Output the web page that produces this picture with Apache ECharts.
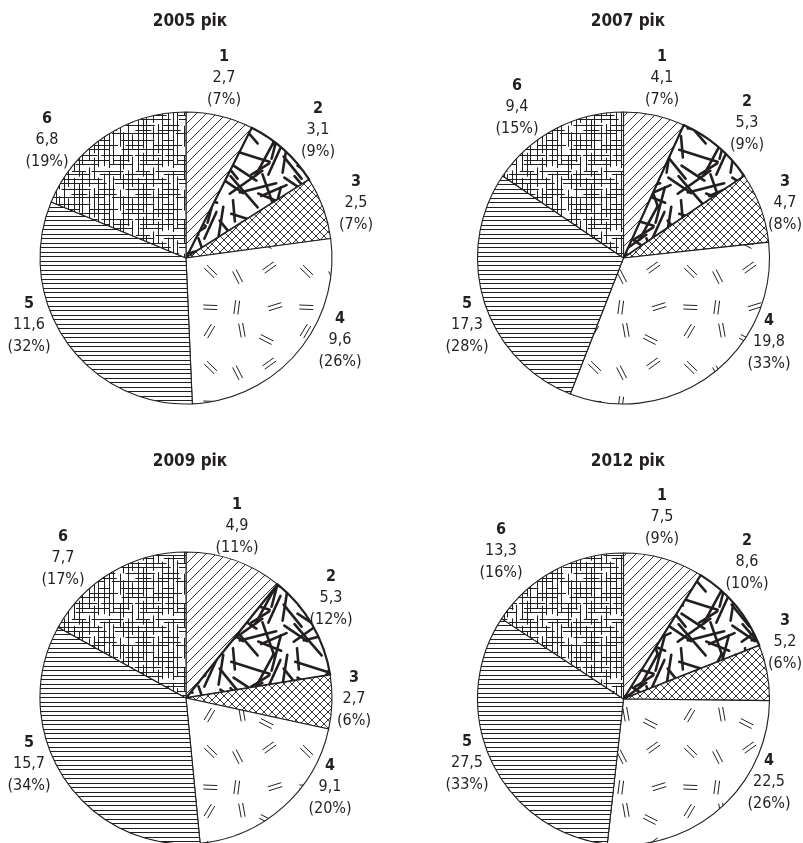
<!DOCTYPE html>
<html><head><meta charset="utf-8">
<script src="https://cdn.jsdelivr.net/npm/echarts/dist/echarts.min.js"></script>
<style>html,body{margin:0;padding:0;background:#fff}#c{width:803px;height:843px}</style>
</head><body><div id="c"></div>
<script>
// ---- data ----
const titles = ['2005 рік', '2007 рік', '2009 рік', '2012 рік'];
const categories = ['1', '2', '3', '4', '5', '6'];
const values2005 = [2.7, 3.1, 2.5, 9.6, 11.6, 6.8];
const percents2005 = [7, 9, 7, 26, 32, 19];
const values2007 = [4.1, 5.3, 4.7, 19.8, 17.3, 9.4];
const percents2007 = [7, 9, 8, 33, 28, 15];
const values2009 = [4.9, 5.3, 2.7, 9.1, 15.7, 7.7];
const percents2009 = [11, 12, 6, 20, 34, 17];
const values2012 = [7.5, 8.6, 5.2, 22.5, 27.5, 13.3];
const percents2012 = [9, 10, 6, 26, 33, 16];

// ---- layout ----
const pieCenters = [[186, 258], [623.5, 258], [186, 698], [623.5, 699]];
const pieRadius = 146;
const titleY = [22, 22, 462, 462];
const titleX = [190, 628, 190, 628];
const labelOffsets = [
  [[38, -180], [132, -128], [170, -55], [154, 82], [-157, 67], [-139, -118]],
  [[38.5, -180], [123.5, -135], [161.5, -55], [145.5, 84], [-156.5, 67], [-106.5, -151]],
  [[51, -172], [145, -100], [168, 1], [144, 89], [-157, 66], [-123, -140]],
  [[38.5, -182], [123.5, -137], [161.5, -57], [145.5, 83], [-156.5, 64], [-122.5, -148]]
];

const FONT = '"DejaVu Sans Condensed", "Liberation Sans", sans-serif';
const INK = '#231f20';

// ---- pattern textures ----
function rng(seed) {
  return function () {
    seed |= 0; seed = seed + 0x6D2B79F5 | 0;
    let t = Math.imul(seed ^ seed >>> 15, 1 | seed);
    t = t + Math.imul(t ^ t >>> 7, 61 | t) ^ t;
    return ((t ^ t >>> 14) >>> 0) / 4294967296;
  };
}
function mk(w, h) {
  const c = document.createElement('canvas'); c.width = w; c.height = h;
  const g = c.getContext('2d'); g.fillStyle = '#fff'; g.fillRect(0, 0, w, h);
  g.strokeStyle = INK; g.lineCap = 'butt';
  return [c, g];
}
function wline(g, w, h, x1, y1, x2, y2) {
  for (const ox of [-w, 0, w]) for (const oy of [-h, 0, h]) {
    g.beginPath(); g.moveTo(x1 + ox, y1 + oy); g.lineTo(x2 + ox, y2 + oy); g.stroke();
  }
}
function patDiag() {
  const s = 10; const [c, g] = mk(s, s); g.lineWidth = 0.9;
  wline(g, s, s, 0, s, s, 0); return c;
}
function patCross() {
  const s = 8; const [c, g] = mk(s, s); g.lineWidth = 0.9;
  wline(g, s, s, 0, s, s, 0); wline(g, s, s, 0, 0, s, s); return c;
}
function patHoriz() {
  const [c, g] = mk(4, 9); g.fillStyle = INK;
  g.fillRect(0, 0, 4, 1); g.fillRect(0, 4, 4, 1); return c;
}
function patGrid() {
  const s = 64; const [c, g] = mk(s, s); g.lineWidth = 1;
  const r = rng(11);
  const steps = [4, 6, 5, 3, 7, 5, 4, 6, 5, 4, 7, 3, 5];
  let p = 0, k = 0;
  while (p < s) {
    let pos = r() * 12;
    while (pos < s) { const len = 12 + r() * 30; wline(g, s, s, p + 0.5, pos, p + 0.5, pos + len); pos += len + 3 + r() * 9; }
    p += steps[k++ % steps.length];
  }
  p = 2; k = 3;
  while (p < s) {
    let pos = r() * 12;
    while (pos < s) { const len = 12 + r() * 30; wline(g, s, s, pos, p + 0.5, pos + len, p + 0.5); pos += len + 3 + r() * 9; }
    p += steps[k++ % steps.length];
  }
  return c;
}
function patThick() {
  const s = 64; const [c, g] = mk(s, s); g.lineWidth = 2.6; g.lineCap = 'round';
  const r = rng(21);
  for (let i = 0; i < 16; i++) {
    const x = r() * s, y = r() * s, a = r() * Math.PI, L = 20 + r() * 22;
    wline(g, s, s, x, y, x + Math.cos(a) * L, y + Math.sin(a) * L);
  }
  return c;
}
function patPairs() {
  const s = 96, cell = 32; const [c, g] = mk(s, s); g.lineWidth = 1;
  const r = rng(5);
  const angs = [0, 25, 60, 90, 115, 140, 160, 75, 35];
  let k = 0;
  for (let i = 0; i < 3; i++) for (let j = 0; j < 3; j++) {
    const cx = i * cell + cell / 2 + (r() - 0.5) * 12, cy = j * cell + cell / 2 + (r() - 0.5) * 12;
    const a = (angs[(k++ * 4) % angs.length] + r() * 10) * Math.PI / 180;
    const dx = Math.cos(a) * 7, dy = Math.sin(a) * 7, nx = -Math.sin(a) * 2, ny = Math.cos(a) * 2;
    wline(g, s, s, cx - dx + nx, cy - dy + ny, cx + dx + nx, cy + dy + ny);
    wline(g, s, s, cx - dx - nx, cy - dy - ny, cx + dx - nx, cy + dy - ny);
  }
  return c;
}
const patterns = [patDiag(), patThick(), patCross(), patPairs(), patHoriz(), patGrid()];

const allValues = [values2005, values2007, values2009, values2012];
const allPercents = [percents2005, percents2007, percents2009, percents2012];
const fmt = v => v.toFixed(1).replace('.', ',');

const series = allValues.map((vals, s) => ({
  type: 'pie',
  center: pieCenters[s],
  radius: pieRadius,
  startAngle: 90,
  clockwise: true,
  avoidLabelOverlap: false,
  silent: true,
  animation: false,
  labelLine: { show: false },
  label: {
    show: true,
    position: 'outside',
    fontFamily: FONT,
    color: INK,
    formatter: p => '{b|' + categories[p.dataIndex] + '}\n{v|' + fmt(vals[p.dataIndex]) + '}\n{v|(' + allPercents[s][p.dataIndex] + '%)}',
    rich: {
      b: { fontFamily: FONT, fontWeight: 'bold', fontSize: 16, lineHeight: 21.5, color: INK, align: 'center' },
      v: { fontFamily: FONT, fontSize: 16, lineHeight: 21.5, color: INK, align: 'center' }
    }
  },
  labelLayout: params => {
    const c = pieCenters[params.seriesIndex];
    const o = labelOffsets[params.seriesIndex][params.dataIndex];
    return { x: c[0] + o[0], y: c[1] + o[1], align: 'center', verticalAlign: 'middle' };
  },
  data: vals.map((v, i) => ({
    name: categories[i],
    value: v,
    itemStyle: {
      color: { image: patterns[i], repeat: 'repeat' },
      borderColor: INK,
      borderWidth: i === 1 ? 2.2 : 1.1
    }
  }))
}));

const chart = echarts.init(document.getElementById('c'), null, { renderer: 'canvas' });
chart.setOption({
  backgroundColor: '#fff',
  animation: false,
  graphic: titles.map((t, i) => ({
    type: 'text', x: titleX[i], y: titleY[i], silent: true,
    style: { text: t, fill: INK, font: 'bold 17px ' + FONT, textAlign: 'center', textVerticalAlign: 'middle' }
  })),
  series: series
});
</script>
</body></html>
